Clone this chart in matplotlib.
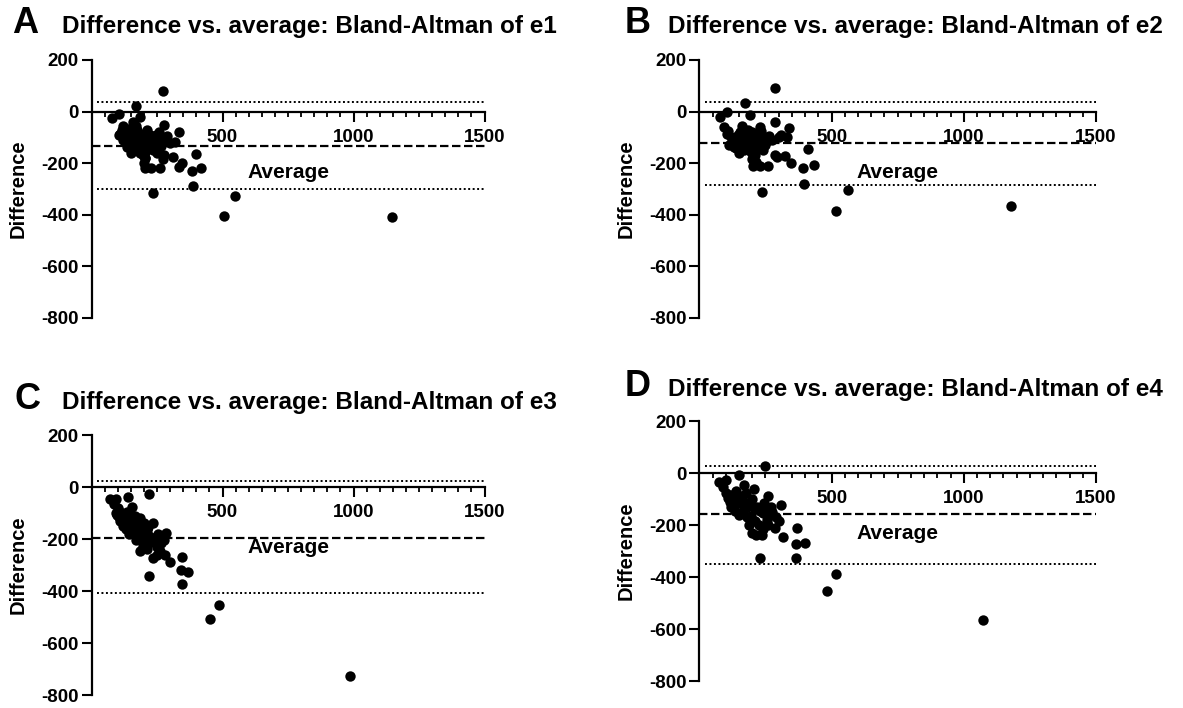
import matplotlib
matplotlib.use("Agg")
import matplotlib.pyplot as plt
from matplotlib.ticker import MultipleLocator, FixedLocator

plt.rcParams["font.family"] = ["Liberation Sans", "DejaVu Sans"]
plt.rcParams["font.weight"] = "bold"
plt.rcParams["axes.unicode_minus"] = False

# ---------------------------------------------------------------------------
# data (average, difference) per endpoint
# ---------------------------------------------------------------------------
LETTERS = ["A", "B", "C", "D"]
TITLES = ["Difference vs. average: Bland-Altman of e1",
          "Difference vs. average: Bland-Altman of e2",
          "Difference vs. average: Bland-Altman of e3",
          "Difference vs. average: Bland-Altman of e4"]

e1_avg = [273, 168, 104, 78, 186, 277, 121, 109, 104, 334, 213, 256, 320, 135, 149, 199, 398,
          277, 312, 344, 334, 384, 419, 388, 234, 206, 227, 263, 199, 206, 273, 504, 547, 1146,
          140, 160, 170, 180, 190, 200, 210, 220, 230, 240, 250, 150, 165, 175, 185, 195, 120,
          130, 145, 155, 175, 200, 225, 260, 280, 300, 290, 215, 235, 250, 205, 190, 160, 170,
          205, 115, 125, 245, 265, 180]
e1_diff = [78, 23, -9, -24, -19, -50, -57, -85, -92, -79, -73, -79, -117, -136, -162, -136, -164,
           -168, -175, -200, -213, -232, -219, -289, -315, -219, -219, -219, -200, -181, -185, -404,
           -327, -410, -100, -90, -110, -120, -95, -105, -115, -100, -120, -110, -125, -130, -145,
           -150, -160, -170, -110, -120, -75, -60, -70, -85, -90, -100, -110, -120, -95, -140, -150,
           -160, -155, -130, -40, -55, -180, -70, -95, -90, -135, -85]

e2_avg = [285, 173, 104, 79, 190, 288, 104, 341, 331, 410, 432, 393, 396, 345, 324, 288, 238,
          564, 516, 1177, 259, 230, 202, 130, 151, 95, 110, 120, 135, 145, 155, 165, 175, 185,
          195, 205, 215, 225, 235, 245, 255, 265, 275, 300, 310, 140, 160, 170, 180, 195, 210,
          220, 240, 200, 215, 160, 185, 250, 295, 125, 113, 200, 230]
e2_diff = [93, 32, -3, -22, -15, -41, -85, -64, -98, -146, -206, -219, -280, -200, -174, -168,
           -310, -305, -386, -365, -212, -212, -212, -136, -161, -60, -75, -100, -110, -90, -80,
           -100, -115, -95, -120, -105, -90, -110, -75, -100, -115, -95, -110, -100, -90, -140,
           -130, -150, -135, -155, -170, -140, -150, -185, -195, -55, -70, -130, -175, -120, -130,
           -80, -60]

e3_avg = [220, 71, 92, 138, 156, 99, 121, 149, 234, 284, 277, 249, 263, 234, 185, 298, 344, 341,
          369, 345, 220, 452, 487, 987, 85, 100, 110, 120, 130, 140, 150, 160, 170, 180, 190, 200,
          210, 160, 175, 190, 205, 220, 230, 130, 145, 170, 195, 210, 240, 255, 265, 250, 280,
          110, 105, 135, 165, 185, 200, 215, 180, 155, 95, 120]
e3_diff = [-25, -48, -45, -38, -76, -108, -140, -166, -140, -178, -204, -229, -248, -274, -248,
           -287, -268, -318, -325, -373, -344, -507, -455, -726, -65, -80, -95, -110, -125, -105,
           -120, -135, -150, -145, -160, -175, -165, -170, -185, -195, -200, -190, -210, -160,
           -180, -205, -225, -240, -195, -180, -215, -260, -260, -130, -115, -95, -110, -120, -140,
           -155, -170, -150, -100, -150]

e4_avg = [247, 151, 76, 101, 168, 259, 309, 371, 367, 398, 367, 230, 482, 518, 1072, 259, 288,
          317, 237, 201, 187, 90, 100, 110, 120, 130, 140, 150, 160, 170, 180, 190, 200, 210, 220,
          230, 240, 250, 260, 275, 290, 120, 135, 150, 165, 180, 195, 210, 225, 175, 200, 245,
          270, 215, 240, 160, 140, 115, 300, 205, 255]
e4_diff = [28, -6, -34, -28, -47, -89, -124, -213, -274, -270, -328, -325, -452, -388, -566, -200,
           -213, -245, -239, -232, -200, -55, -75, -95, -85, -105, -115, -100, -120, -110, -130,
           -115, -125, -140, -130, -145, -155, -140, -160, -150, -170, -130, -145, -160, -150,
           -170, -165, -185, -200, -75, -100, -115, -130, -240, -215, -90, -70, -110, -185, -60,
           -180]

AVGS = [e1_avg, e2_avg, e3_avg, e4_avg]
DIFFS = [e1_diff, e2_diff, e3_diff, e4_diff]
bias = [-133, -123, -195, -158]
loa_upper = [36, 38, 23, 28]
loa_lower = [-301, -286, -408, -349]

# ---------------------------------------------------------------------------
# layout (pixels) taken from the 1183x708 reference
# ---------------------------------------------------------------------------
W, H = 1183, 708
fig = plt.figure(figsize=(W / 100, H / 100), dpi=100)
rects = [(91.5, 60, 484.5, 318), (699.3, 60, 1096, 318),
         (91.5, 435, 484.5, 695), (699.3, 421, 1096, 681)]
title_pos = [(12, 62, 33), (625, 668, 33), (14, 62, 409), (625, 668, 396)]

for k in range(4):
    x0, y0, x1, y1 = rects[k]
    ax = fig.add_axes([x0 / W, 1 - y1 / H, (x1 - x0) / W, (y1 - y0) / H])
    ax.scatter(AVGS[k], DIFFS[k], s=56, color="black", linewidths=0, zorder=3)
    ax.hlines([loa_upper[k], loa_lower[k]], 20, 1500, colors="black",
              linestyles=(0, (1, 1.3)), lw=1.4)
    ax.hlines(bias[k], 0, 1500, colors="black", linestyles=(0, (3.8, 1.6)), lw=1.6)

    ax.set_xlim(0, 1500); ax.set_ylim(-800, 200)
    ax.spines[["top", "right"]].set_visible(False)
    ax.spines["bottom"].set_position(("data", 0))
    for s in ("left", "bottom"):
        ax.spines[s].set_linewidth(1.6)
    ax.xaxis.set_major_locator(FixedLocator([500, 1000, 1500]))
    ax.xaxis.set_minor_locator(MultipleLocator(50))
    ax.yaxis.set_major_locator(MultipleLocator(200))
    ax.tick_params(axis="x", which="major", length=7.5, width=1.5, pad=5, labelsize=13.5)
    ax.tick_params(axis="x", which="minor", length=3.6, width=1.3)
    ax.tick_params(axis="y", length=7, width=1.5, pad=2, labelsize=13.5)
    for t in ax.get_xticklabels() + ax.get_yticklabels():
        t.set_fontweight("bold")
    ax.set_xlabel("Average", fontsize=15, fontweight="bold", labelpad=12)
    ax.set_ylabel("Difference", fontsize=14.5, fontweight="bold", labelpad=10)

    lx, tx, ty = title_pos[k]
    fig.text(lx / W, 1 - ty / H, LETTERS[k], fontsize=26, fontweight="bold", va="baseline")
    fig.text(tx / W, 1 - ty / H, TITLES[k], fontsize=17.5, fontweight="bold", va="baseline")

fig.savefig("out.png", dpi=100)
